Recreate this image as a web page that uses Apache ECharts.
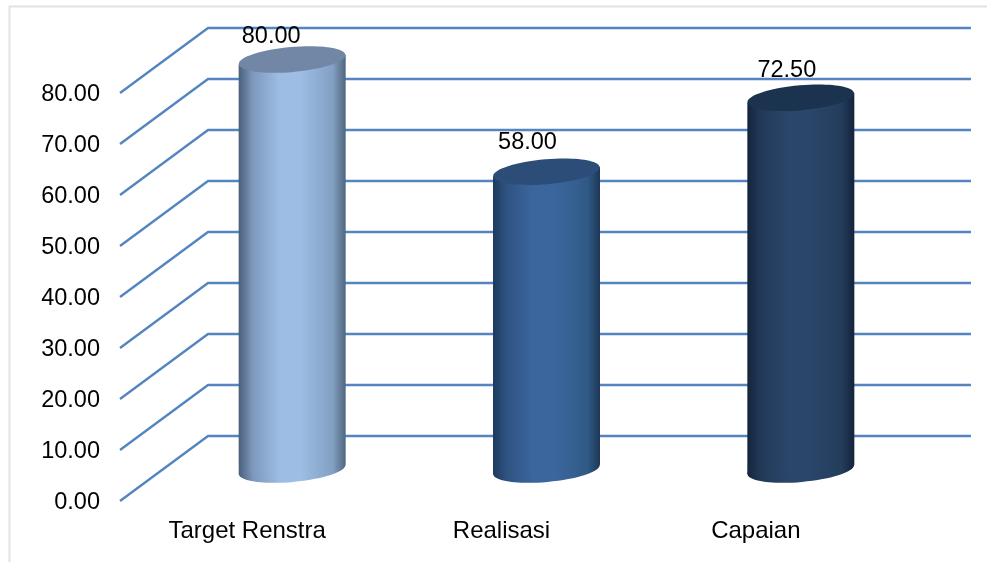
<!DOCTYPE html>
<html>
<head>
<meta charset="utf-8">
<style>html,body{margin:0;padding:0;background:#fff}#c{width:987px;height:562px}</style>
<script src="https://cdn.jsdelivr.net/npm/echarts@6/dist/echarts.min.js"></script>
</head>
<body>
<div id="c"></div>
<script>
const categories = ['Target Renstra', 'Realisasi', 'Capaian'];
const values = [80.00, 58.00, 72.50];
const ticks = [0, 10, 20, 30, 40, 50, 60, 70, 80];

const palette = [
  {edgeL:'#4a5f7b', nearL:'#7d98bb', mid:'#9dbde4', nearR:'#82a0c2', edgeR:'#50667f', top:'#7187a5'},
  {edgeL:'#1e3a5d', nearL:'#2f5483', mid:'#3b669d', nearR:'#2f5a85', edgeR:'#1d3756', top:'#2c4d78'},
  {edgeL:'#15253a', nearL:'#223a59', mid:'#2a4669', nearR:'#233d5c', edgeR:'#14233a', top:'#1c3350'}
];
const labelNudge = [[-21,-56.5],[-19,-62.5],[-14,-61]];
const DEPTH_X = 88, DEPTH_Y = -65, BAR_X = 45, BASE_Y = -31.5, TOP_Y = -33.5;
const RX = 53.5, RY = 12.5, TILT = 5 * Math.PI / 180;
const FONT = '23.5px "Liberation Sans", Arial, sans-serif';
const LINE = '#5585c0';

const chart = echarts.init(document.getElementById('c'), null, {renderer:'canvas'});

function renderGrid(params, api) {
  const y = api.coord([0, api.value(0)])[1];
  const left = params.coordSys.x, right = left + params.coordSys.width;
  return {
    type:'polyline', silent:true,
    shape:{points:[[left,y],[left+DEPTH_X,y+DEPTH_Y],[right+DEPTH_X,y+DEPTH_Y]]},
    style:{stroke:LINE, lineWidth:2.4, fill:null, lineJoin:'round'}
  };
}

function renderBar(params, api) {
  const i = api.value(0), v = api.value(1);
  const base = api.coord([i, 0]), topP = api.coord([i, v]);
  const cx = base[0] + BAR_X, by = base[1] + BASE_Y, ty = topP[1] + TOP_Y;
  const c = palette[i];
  const grad = new echarts.graphic.LinearGradient(0,0,1,0,[
    {offset:0, color:c.edgeL},{offset:0.13, color:c.nearL},{offset:0.38, color:c.mid},
    {offset:0.58, color:c.mid},{offset:0.88, color:c.nearR},{offset:1, color:c.edgeR}
  ]);
  const dy = RX * Math.sin(TILT);
  const n = labelNudge[i];
  const ell = (y, fill) => ({type:'ellipse', x:cx, y:y, rotation:TILT, silent:true,
    shape:{cx:0, cy:0, rx:RX, ry:RY}, style:{fill:fill}});
  return {type:'group', children:[
    ell(by, grad),
    {type:'polygon', silent:true,
     shape:{points:[[cx-RX,ty+dy],[cx+RX,ty-dy],[cx+RX,by-dy],[cx-RX,by+dy]]},
     style:{fill:grad}},
    ell(ty, c.top),
    {type:'text', silent:true, style:{
      text:v.toFixed(2), x:cx+n[0], y:topP[1]+n[1], font:FONT, fill:'#000',
      align:'center', verticalAlign:'middle'}}
  ]};
}

chart.setOption({
  animation:false,
  backgroundColor:'#fff',
  grid:{left:120, right:104, top:93, bottom:61, containLabel:false},
  xAxis:{type:'category', data:categories, axisLine:{show:false}, axisTick:{show:false},
    axisLabel:{color:'#000', fontFamily:'Liberation Sans', fontSize:24, margin:18}},
  yAxis:{type:'value', min:0, max:80, interval:10, splitLine:{show:false},
    axisLine:{show:false}, axisTick:{show:false},
    axisLabel:{color:'#000', fontFamily:'Liberation Sans', fontSize:23.5, margin:20,
      verticalAlign:'top', lineHeight:4, formatter:v=>v.toFixed(2)}},
  graphic:[{type:'polyline', silent:true, z:0,
    shape:{points:[[9.5,562],[9.5,6.5],[987,6.5]]},
    style:{stroke:'#e2e2e2', lineWidth:2, fill:null}}],
  series:[
    {type:'custom', renderItem:renderGrid, data:ticks.map(t=>[t]), encode:{y:0}, clip:false, z:1, silent:true},
    {type:'custom', renderItem:renderBar, data:values.map((v,i)=>[i,v]), encode:{x:0,y:1}, clip:false, z:2, silent:true}
  ]
});
</script>
</body>
</html>
